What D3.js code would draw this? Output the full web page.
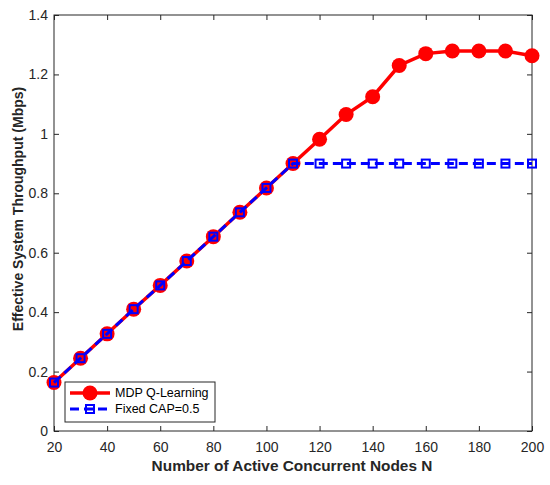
<!DOCTYPE html>
<html>
<head>
<meta charset="utf-8">
<script src="https://cdn.jsdelivr.net/npm/d3@7/dist/d3.min.js"></script>
<style>
  body { margin: 0; background: #fff; }
  svg { font-family: Arial, "Liberation Sans", sans-serif; }
</style>
</head>
<body>
<div id="chart"></div>
<script>
const nodes = [20, 30, 40, 50, 60, 70, 80, 90, 100, 110, 120, 130, 140, 150, 160, 170, 180, 190, 200];
const mdpQ = [0.163, 0.245, 0.327, 0.410, 0.490, 0.572, 0.654, 0.736, 0.818, 0.900, 0.982, 1.065, 1.125, 1.230, 1.270, 1.279, 1.279, 1.279, 1.263];
const fixedCap = [0.163, 0.245, 0.327, 0.410, 0.490, 0.572, 0.654, 0.736, 0.818, 0.900, 0.900, 0.900, 0.900, 0.900, 0.900, 0.900, 0.900, 0.900, 0.900];
const xTicks = [20, 40, 60, 80, 100, 120, 140, 160, 180, 200];
const yTicks = [0, 0.2, 0.4, 0.6, 0.8, 1, 1.2, 1.4];
const seriesNames = ['MDP Q-Learning', 'Fixed CAP=0.5'];

const width = 550, height = 485;
const plot = { left: 54, top: 15, right: 532, bottom: 431 };
const axisColor = '#262626';

const svg = d3.select('#chart').append('svg')
  .attr('width', width).attr('height', height);

const x = d3.scaleLinear().domain([20, 200]).range([plot.left, plot.right]);
const y = d3.scaleLinear().domain([0, 1.4]).range([plot.bottom, plot.top]);

// axes, matlab style: ticks pointing inward, box on
function styleAxis(g) {
  g.select('.domain').remove();
  g.selectAll('.tick line').attr('stroke', axisColor);
  g.selectAll('.tick text').attr('fill', axisColor).attr('font-size', 14);
}

svg.append('g').attr('transform', `translate(0,${plot.bottom})`)
  .call(d3.axisBottom(x).tickValues(xTicks).tickSizeInner(-5).tickSizeOuter(0).tickPadding(11))
  .call(styleAxis);
svg.append('g').attr('transform', `translate(0,${plot.top})`)
  .call(d3.axisTop(x).tickValues(xTicks).tickSizeInner(-5).tickSizeOuter(0).tickFormat(''))
  .call(styleAxis);
svg.append('g').attr('transform', `translate(${plot.left},0)`)
  .call(d3.axisLeft(y).tickValues(yTicks).tickSizeInner(-5).tickSizeOuter(0).tickPadding(6).tickFormat(d3.format('~g')))
  .call(styleAxis);
svg.append('g').attr('transform', `translate(${plot.right},0)`)
  .call(d3.axisRight(y).tickValues(yTicks).tickSizeInner(-5).tickSizeOuter(0).tickFormat(''))
  .call(styleAxis);

svg.append('rect')
  .attr('x', plot.left).attr('y', plot.top)
  .attr('width', plot.right - plot.left).attr('height', plot.bottom - plot.top)
  .attr('fill', 'none').attr('stroke', axisColor).attr('stroke-width', 1);

// axis labels
svg.append('text').text('Number of Active Concurrent Nodes N')
  .attr('x', 292).attr('y', 471)
  .attr('text-anchor', 'middle').attr('font-weight', 'bold').attr('font-size', 15.4)
  .attr('fill', axisColor);
// picture is a bit stretched sideways, so the rotated label is squeezed along its length
svg.append('text').text('Effective System Throughput (Mbps)')
  .attr('transform', 'translate(23,209) rotate(-90) scale(0.91,1)')
  .attr('text-anchor', 'middle').attr('font-weight', 'bold').attr('font-size', 15.4)
  .attr('fill', axisColor);

const line = d3.line().x((d, i) => x(nodes[i])).y(d => y(d));

// MDP Q-Learning
svg.append('path').datum(mdpQ)
  .attr('d', line).attr('fill', 'none')
  .attr('stroke', '#ff0000').attr('stroke-width', 3.5);
svg.append('g').selectAll('circle').data(mdpQ).enter().append('circle')
  .attr('cx', (d, i) => x(nodes[i])).attr('cy', d => y(d))
  .attr('r', 7.5).attr('fill', '#ff0000');

// Fixed CAP
svg.append('path').datum(fixedCap)
  .attr('d', line).attr('fill', 'none')
  .attr('stroke', '#0000ff').attr('stroke-width', 3)
  .attr('stroke-dasharray', '9,5');
svg.append('g').selectAll('rect').data(fixedCap).enter().append('rect')
  .attr('x', (d, i) => x(nodes[i]) - 4).attr('y', d => y(d) - 4)
  .attr('width', 8).attr('height', 8)
  .attr('fill', 'none').attr('stroke', '#0000ff').attr('stroke-width', 2);

// legend
const legend = svg.append('g').attr('transform', 'translate(65,382)');
legend.append('rect').attr('width', 150).attr('height', 40)
  .attr('fill', '#fff').attr('stroke', axisColor).attr('stroke-width', 1);

const row1 = legend.append('g').attr('transform', 'translate(0,11)');
row1.append('line').attr('x1', 5).attr('x2', 45).attr('stroke', '#ff0000').attr('stroke-width', 3.5);
row1.append('circle').attr('cx', 25).attr('r', 7.5).attr('fill', '#ff0000');
row1.append('text').text(seriesNames[0]).attr('x', 50).attr('dy', '0.35em')
  .attr('font-size', 12.5).attr('fill', '#000');

const row2 = legend.append('g').attr('transform', 'translate(0,27)');
row2.append('line').attr('x1', 5).attr('x2', 45).attr('stroke', '#0000ff').attr('stroke-width', 3)
  .attr('stroke-dasharray', '9,5');
row2.append('rect').attr('x', 21).attr('y', -4).attr('width', 8).attr('height', 8)
  .attr('fill', 'none').attr('stroke', '#0000ff').attr('stroke-width', 2);
row2.append('text').text(seriesNames[1]).attr('x', 50).attr('dy', '0.35em')
  .attr('font-size', 12.5).attr('fill', '#000');
</script>
</body>
</html>
